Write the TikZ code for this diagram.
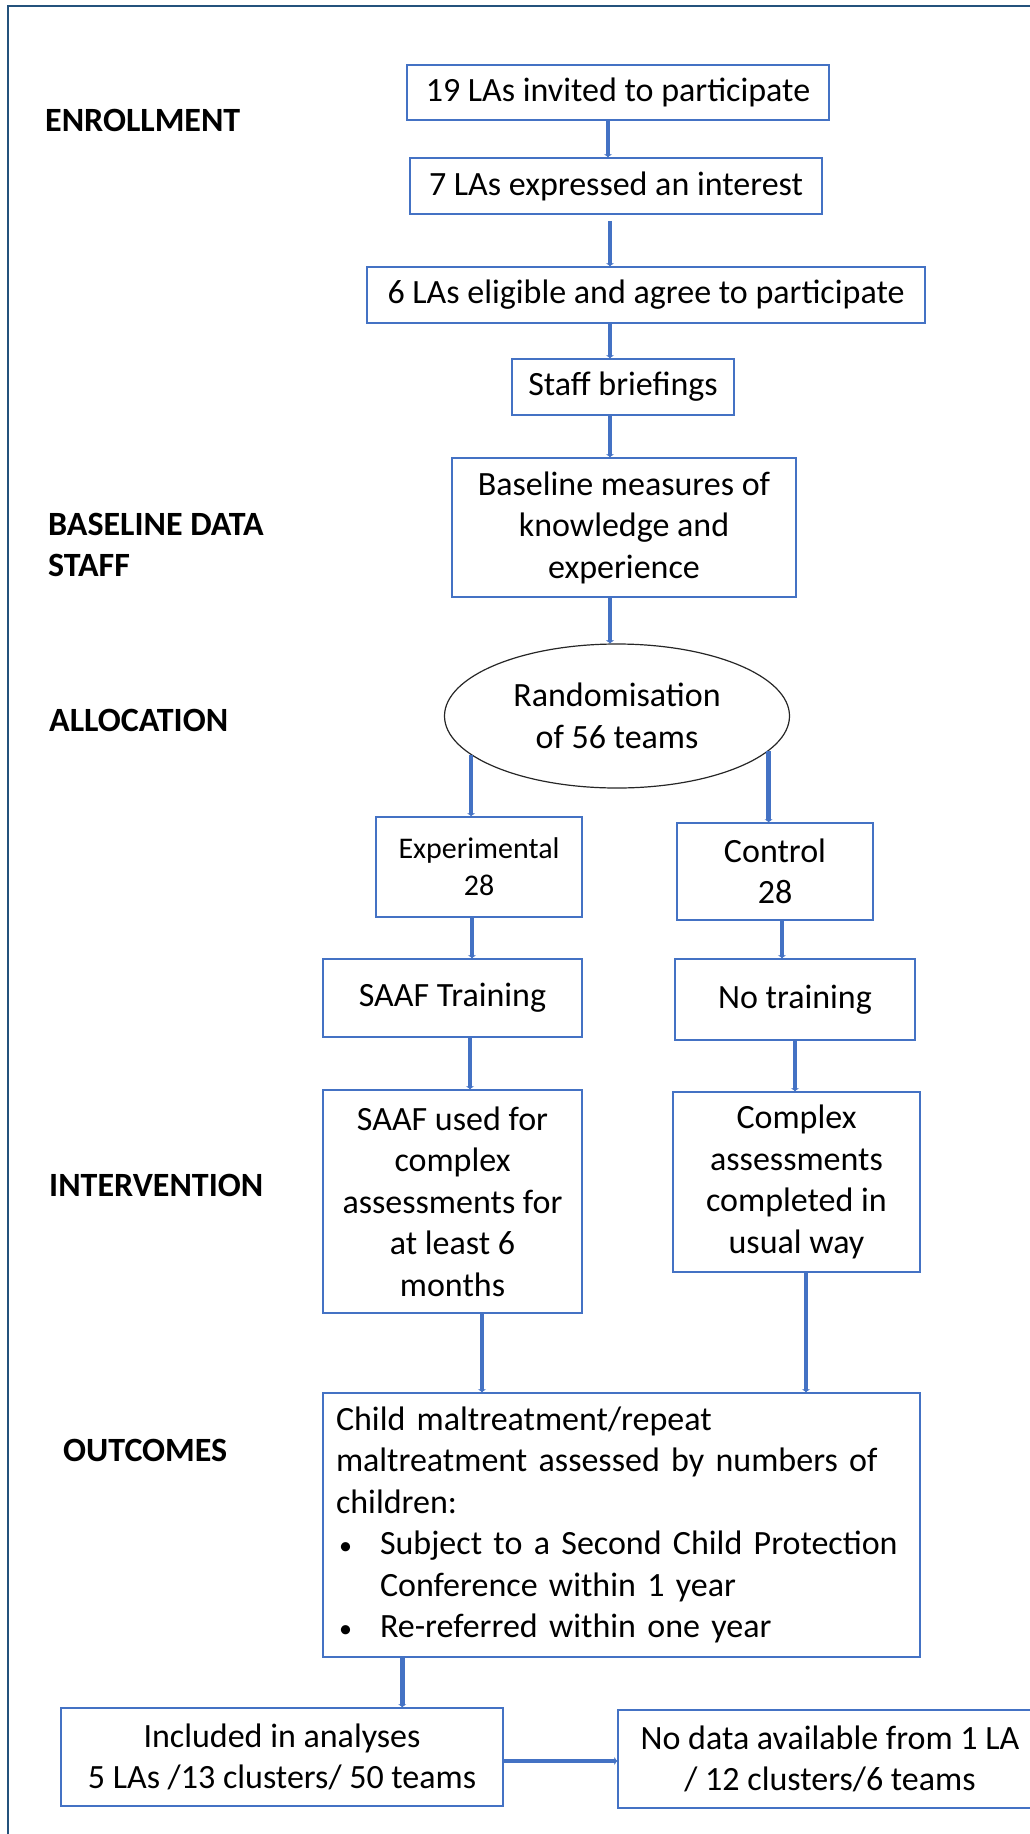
\documentclass[tikz,border=0pt]{standalone}
\usepackage{fontspec}
\setmainfont{Carlito}
\usetikzlibrary{
  arrows.meta,
  shapes.geometric
}
\definecolor{boxblue}{RGB}{68,114,196}
\definecolor{linkblue}{RGB}{68,114,196}
\definecolor{framenavy}{RGB}{36,82,124}
\newcommand{\smallbullet}{\makebox[41pt][l]{\fontsize{26}{26}\selectfont\textbullet}}

\begin{document}
\begin{tikzpicture}[x=1pt, y=-1pt,
    every node/.style={font=\fontsize{34}{41.5}\selectfont},
    stage/.style={font=\fontsize{34}{41.5}\selectfont\bfseries, anchor=west, align=left, inner sep=0pt},
    flowbox/.style={draw=boxblue, line width=1.5pt, align=center, inner sep=0pt},
    link/.style={draw=linkblue, line width=4.5pt, -{Latex[length=3pt,width=9pt]}}]
    \useasboundingbox (0,0) rectangle (1030,1834);
    \clip (0,0) rectangle (1030,1834);
    % Frame
    \draw[framenavy, line width=2pt] (8,6) rectangle (1060,1860);

    % Stage labels
    \node[stage] (enrol) at (45,120) {ENROLLMENT};
    \node[stage] (baselbl) at (48,545) {BASELINE DATA\\STAFF};
    \node[stage] (alloc) at (49,720) {ALLOCATION};
    \node[stage] (interv) at (49,1185) {INTERVENTION};
    \node[stage] (outlbl) at (63,1450) {OUTCOMES};

    % Enrollment boxes
    \node[flowbox, minimum width=422pt, minimum height=55pt] (invited) at (618,92.5) {19 LAs invited to participate};
    \node[flowbox, minimum width=412pt, minimum height=56pt] (interest) at (616,186) {7 LAs expressed an interest};
    \node[flowbox, minimum width=558pt, minimum height=56pt] (eligible) at (646,295) {6 LAs eligible and agree to participate};
    \node[flowbox, minimum width=222pt, minimum height=56pt] (brief) at (623,387) {Staff briefings};
    \node[flowbox, minimum width=344pt, minimum height=139pt] (baseline) at (624,527.5) {Baseline measures of\\knowledge and\\experience};

    % Allocation
    \node[ellipse, draw=black!85, line width=1.2pt, minimum width=345pt, minimum height=144pt, inner sep=0pt, align=center] (rand) at (617,716) {Randomisation\\of 56 teams};
    \node[flowbox, minimum width=206pt, minimum height=100pt, font=\fontsize{30}{37}\selectfont] (exper) at (479,867) {Experimental\\28};
    \node[flowbox, minimum width=196pt, minimum height=97pt] (control) at (775,871.5) {Control\\28};

    % Intervention
    \node[flowbox, minimum width=259pt, minimum height=78pt] (saaftrain) at (452.5,998) {SAAF Training};
    \node[flowbox, minimum width=240pt, minimum height=81pt] (notrain) at (795,999.5) {No training};
    \node[flowbox, minimum width=259pt, minimum height=223pt] (saafused) at (452.5,1201.5) {SAAF used for\\complex\\assessments for\\at least 6\\months};
    \node[flowbox, minimum width=247pt, minimum height=180pt] (complex) at (796.5,1182) {Complex\\assessments\\completed in\\usual way};

    % Outcomes
    \node[flowbox, minimum width=597pt, minimum height=264pt, text width=571pt, align=left] (outcomes) at (621.5,1525) {Child maltreatment/repeat\\maltreatment assessed by numbers of\\children:\\\hspace*{3pt}\smallbullet Subject to a Second Child Protection\\\hspace*{44pt}Conference within 1 year\\\hspace*{3pt}\smallbullet Re-referred within one year};
    \node[flowbox, minimum width=442pt, minimum height=98pt] (included) at (282,1757) {Included in analyses\\5 LAs /13 clusters/ 50 teams};
    \node[flowbox, minimum width=424pt, minimum height=98pt] (nodata) at (830,1759) {No data available from 1 LA\\/ 12 clusters/6 teams};

    % Connectors
    \draw[link] ([xshift=-10pt]invited.south) -- ([xshift=-10pt]invited.south |- interest.north);
    \draw[link, shorten <=6pt] ([xshift=-6pt]interest.south) -- ([xshift=-6pt]interest.south |- eligible.north);
    \draw[link] ([xshift=-36pt]eligible.south) -- ([xshift=-36pt]eligible.south |- brief.north);
    \draw[link] ([xshift=-13pt]brief.south) -- ([xshift=-13pt]brief.south |- baseline.north);
    \draw[link] ([xshift=-14pt]baseline.south) -- ([xshift=-14pt]baseline.south |- rand.north);
    \draw[link] (rand.195) -- (rand.195 |- exper.north);
    \draw[link] (rand.347.5) -- (rand.347.5 |- control.north);
    \draw[link] ([xshift=-7pt]exper.south) -- ([xshift=-7pt]exper.south |- saaftrain.north);
    \draw[link] ([xshift=7pt]control.south) -- ([xshift=7pt]control.south |- notrain.north);
    \draw[link] ([xshift=17.5pt]saaftrain.south) -- ([xshift=17.5pt]saaftrain.south |- saafused.north);
    \draw[link] (notrain.south) -- (notrain.south |- complex.north);
    \draw[link] ([xshift=29.5pt]saafused.south) -- ([xshift=29.5pt]saafused.south |- outcomes.north);
    \draw[link] ([xshift=9.5pt]complex.south) -- ([xshift=9.5pt]complex.south |- outcomes.north);
    \draw[link] ([xshift=80pt]outcomes.south west) -- ([xshift=80pt]outcomes.south west |- included.north);
    \draw[link] ([yshift=-4pt]included.east) -- ([yshift=-4pt]included.east -| nodata.west);
\end{tikzpicture}
\end{document}
